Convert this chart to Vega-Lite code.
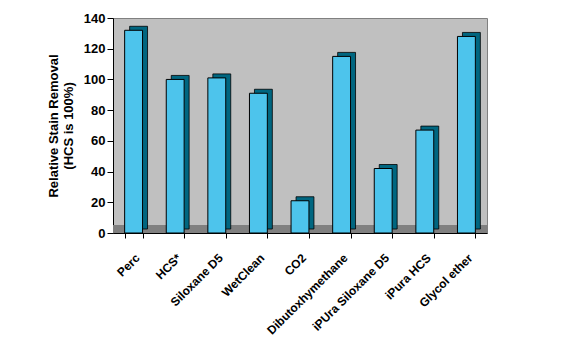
{
  "$schema": "https://vega.github.io/schema/vega-lite/v6.json",
  "autosize": "none",
  "padding": {"left": 113, "top": 18, "right": 79, "bottom": 124},
  "width": 374,
  "height": 215,
  "background": "white",
  "config": {
    "font": "Liberation Sans",
    "view": {"fill": "#C0C0C0", "stroke": "#808080", "strokeWidth": 1}
  },
  "data": {
    "values": [
      {"solvent": "Perc", "removal": 132},
      {"solvent": "HCS*", "removal": 100},
      {"solvent": "Siloxane D5", "removal": 101},
      {"solvent": "WetClean", "removal": 91},
      {"solvent": "CO2", "removal": 21},
      {"solvent": "Dibutoxhymethane", "removal": 115},
      {"solvent": "iPUra Siloxane D5", "removal": 42},
      {"solvent": "iPura HCS", "removal": 67},
      {"solvent": "Glycol ether", "removal": 128}
    ]
  },
  "encoding": {
    "x": {
      "field": "solvent",
      "type": "nominal",
      "sort": null,
      "scale": {"paddingInner": 0.57, "paddingOuter": 0.28},
      "axis": {
        "title": null,
        "labelAngle": -45,
        "labelAlign": "right",
        "labelBaseline": "top",
        "labelFont": "Liberation Sans",
        "labelFontWeight": "bold",
        "labelFontSize": 12,
        "labelColor": "black",
        "labelPadding": 14,
        "labelOverlap": false,
        "tickBand": "extent",
        "tickColor": "black",
        "tickSize": 5,
        "domainColor": "black"
      }
    },
    "y": {
      "field": "removal",
      "type": "quantitative",
      "scale": {"domain": [0, 140]},
      "axis": {
        "title": ["Relative Stain Removal", "(HCS is 100%)"],
        "titleFont": "Liberation Sans",
        "titleFontSize": 13,
        "titleFontWeight": "bold",
        "titleColor": "black",
        "titlePadding": 8,
        "values": [0, 20, 40, 60, 80, 100, 120, 140],
        "tickCount": 8,
        "labelOverlap": false,
        "grid": false,
        "labelFont": "Liberation Sans",
        "labelFontWeight": "bold",
        "labelFontSize": 13,
        "labelColor": "black",
        "tickColor": "black",
        "tickSize": 6,
        "domainColor": "black"
      }
    }
  },
  "layer": [
    {
      "mark": {"type": "rect", "color": "#808080"},
      "encoding": {
        "x": null,
        "y": {"datum": 0},
        "y2": {"datum": 5}
      }
    },
    {
      "mark": {"type": "bar", "color": "#006680", "stroke": "black", "strokeWidth": 0.8, "xOffset": 5, "yOffset": -4}
    },
    {
      "mark": {"type": "bar", "color": "#4DC4EC", "stroke": "black", "strokeWidth": 1}
    }
  ]
}
